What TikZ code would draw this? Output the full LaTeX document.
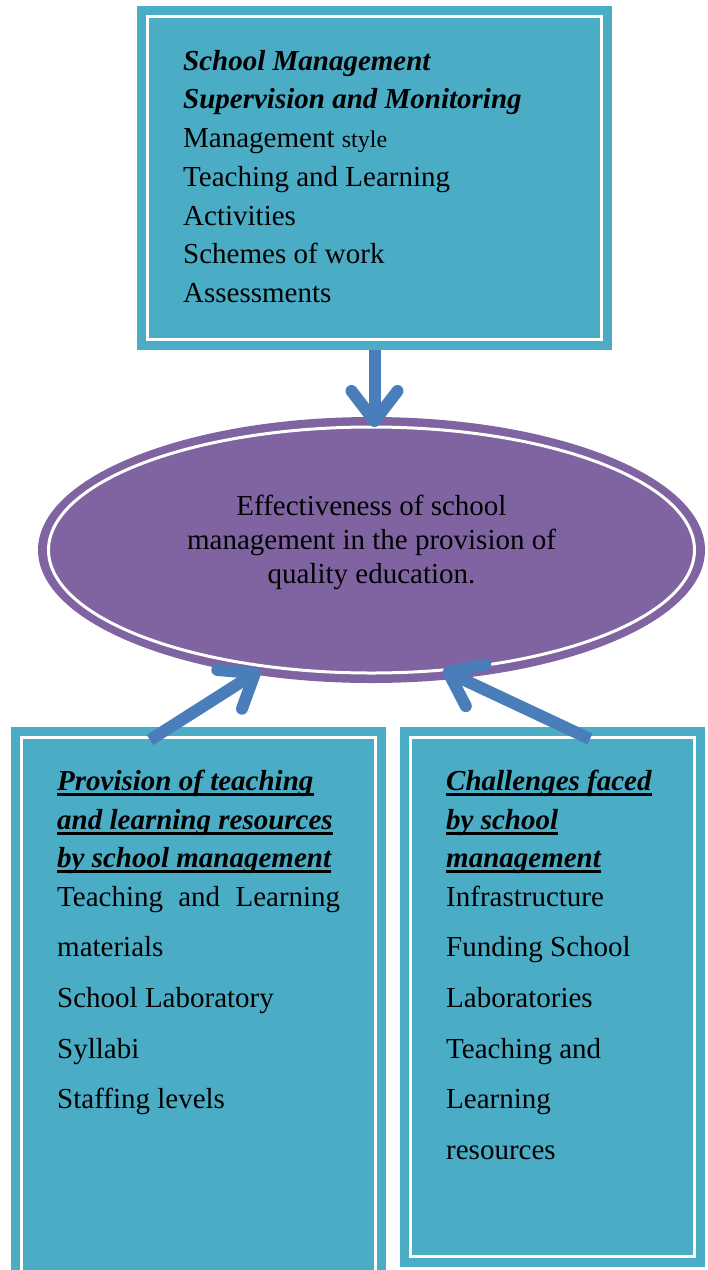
\documentclass[tikz,border=0pt]{standalone}
\usepackage{fontspec}
\setmainfont{Liberation Serif}
\usetikzlibrary{shapes.geometric,arrows.meta,calc}
\definecolor{boxteal}{HTML}{4BACC6}
\definecolor{ellpurple}{HTML}{8064A2}
\definecolor{arrblue}{HTML}{4A7EBB}
\begin{document}
\begin{tikzpicture}[x=1pt,y=-1pt,
  box/.style={rectangle, fill=boxteal, draw=none, inner sep=0pt},
  frame/.style={draw=white, line width=3.5pt},
  txt/.style={anchor=base west, inner sep=0pt, font=\fontsize{29}{35}\selectfont},
  head/.style={anchor=base west, inner sep=0pt, font=\fontsize{29}{35}\selectfont\bfseries\itshape},
  ctxt/.style={anchor=base, inner sep=0pt, font=\fontsize{29}{35}\selectfont},
  uline/.style={draw=black, line width=2.6pt},
  conn/.style={draw=arrblue, line width=12pt, -{Straight Barb[round, length=30pt 0, width=46pt 0]}}
]
\useasboundingbox (0,0) rectangle (708,1270);
\clip (0,0) rectangle (708,1270);

% top box
\node[box, minimum width=475pt, minimum height=344pt] (topbox) at (374.5,178) {};
\draw[frame] ([shift={(10.5,10.5)}]topbox.north west) rectangle ([shift={(-10.5,-10.5)}]topbox.south east);
\node[head] (t1) at (183,70) {School Management};
\node[head] (t2) at (183,108.7) {Supervision and Monitoring};
\node[txt] (t3) at (183,147.4) {Management {\fontsize{24}{28}\selectfont style}};
\node[txt] (t4) at (183,186) {Teaching and Learning};
\node[txt] (t5) at (183,225) {Activities};
\node[txt] (t6) at (183,263.5) {Schemes of work};
\node[txt] (t7) at (183,302) {Assessments};

% ellipse
\node[ellipse, fill=ellpurple, draw=none, minimum width=667pt, minimum height=266pt, inner sep=0pt] (ell) at (371.5,550) {};
\draw[draw=white, line width=3pt] (ell.center) ellipse [x radius=323, y radius=123];
\node[ctxt] (e1) at (371.5,515) {Effectiveness of school};
\node[ctxt] (e2) at (371.5,549) {management in the provision of};
\node[ctxt] (e3) at (371.5,583) {quality education.};

% left box
\node[box, minimum width=375pt, minimum height=563pt] (lbox) at (198.5,1008.5) {};
\draw[frame] ([shift={(10.5,10.5)}]lbox.north west) rectangle ([shift={(-10.5,-10.5)}]lbox.south east);
\foreach \y/\t [count=\i] in {790/Provision of teaching, 829/and learning resources, 867/by school management}{
  \node[head] (lh\i) at (57,\y) {\t};
  \draw[uline] ([yshift=-4.5pt]lh\i.base west) -- ([yshift=-4.5pt]lh\i.base east);
}
\node[txt] (l1) at (57,906) {\hbox to 283pt{Teaching\hfill and\hfill Learning}};
\node[txt] (l2) at (57,956) {materials};
\node[txt] (l3) at (57,1007) {School Laboratory};
\node[txt] (l4) at (57,1058) {Syllabi};
\node[txt] (l5) at (57,1108) {Staffing levels};

% right box
\node[box, minimum width=305pt, minimum height=540pt] (rbox) at (552.5,997) {};
\draw[frame] ([shift={(10.5,10.5)}]rbox.north west) rectangle ([shift={(-10.5,-10.5)}]rbox.south east);
\foreach \y/\t [count=\i] in {790/Challenges faced, 829/by school, 867/management}{
  \node[head] (rh\i) at (446,\y) {\t};
  \draw[uline] ([yshift=-4.5pt]rh\i.base west) -- ([yshift=-4.5pt]rh\i.base east);
}
\node[txt] (r1) at (446,906) {Infrastructure};
\node[txt] (r2) at (446,956) {Funding School};
\node[txt] (r3) at (446,1007) {Laboratories};
\node[txt] (r4) at (446,1058) {Teaching and};
\node[txt] (r5) at (446,1108) {Learning};
\node[txt] (r6) at (446,1159) {resources};

% arrows
\coordinate (tipT) at (374.5,427);
\coordinate (tipL) at (260,670);
\coordinate (tipR) at (443,670);
\coordinate (startL) at (150,740);
\coordinate (startR) at (590,739);
\draw[conn] (topbox.south) -- (tipT);
\draw[conn] (startL) -- (tipL);
\draw[conn] (startR) -- (tipR);
\end{tikzpicture}
\end{document}
